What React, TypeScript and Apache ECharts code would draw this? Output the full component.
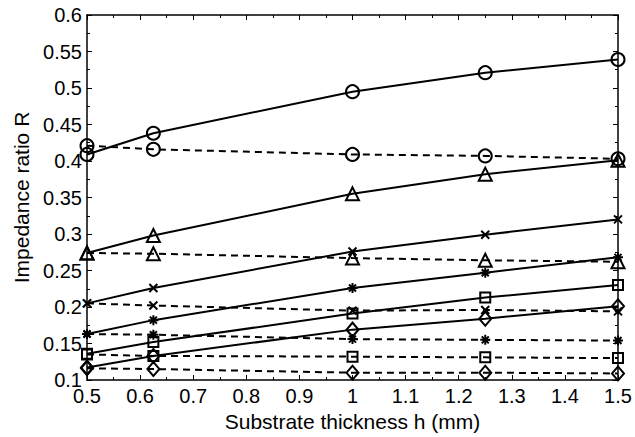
import React, { useEffect, useRef } from "react";
import * as echarts from "echarts";

const thickness = [0.5, 0.625, 1, 1.25, 1.5];
const circleSolid = [0.409, 0.438, 0.495, 0.521, 0.539];
const circleDashed = [0.421, 0.416, 0.409, 0.407, 0.403];
const triSolid = [0.274, 0.298, 0.355, 0.382, 0.401];
const triDashed = [0.274, 0.273, 0.267, 0.264, 0.262];
const crossSolid = [0.205, 0.226, 0.276, 0.299, 0.32];
const crossDashed = [0.205, 0.202, 0.195, 0.196, 0.194];
const starSolid = [0.163, 0.182, 0.226, 0.247, 0.268];
const starDashed = [0.163, 0.162, 0.156, 0.155, 0.154];
const squareSolid = [0.136, 0.152, 0.191, 0.213, 0.23];
const squareDashed = [0.135, 0.133, 0.132, 0.131, 0.13];
const diamondSolid = [0.117, 0.133, 0.169, 0.184, 0.201];
const diamondDashed = [0.116, 0.115, 0.11, 0.11, 0.109];

const CROSS = "path://M0,0L10,10M10,0L0,10";
const STAR = "path://M5,0L5,10M0,5L10,5M1.5,1.5L8.5,8.5M8.5,1.5L1.5,8.5";

const FONT = "'Liberation Sans', Arial, Helvetica, sans-serif";

function mk(name: string, values: number[], symbol: string, size: number | number[], dashed: boolean) {
  return {
    name,
    type: "line",
    data: thickness.map((x, i) => [x, values[i]]),
    symbol,
    symbolSize: size,
    showAllSymbol: true,
    lineStyle: { color: "#000", width: 2, type: dashed ? [7, 5] : "solid" },
    itemStyle: { color: "rgba(0,0,0,0)", borderColor: "#000", borderWidth: 2 },
    emphasis: { disabled: true },
    z: 3,
  };
}

export default function App() {
  const ref = useRef<HTMLDivElement>(null);
  useEffect(() => {
    if (!ref.current) return;
    const chart = echarts.init(ref.current, undefined, { renderer: "svg" });
    const axisCommon = {
      axisLine: { show: true, onZero: false, lineStyle: { color: "#000", width: 1.5 } },
      axisTick: { show: true, inside: true, length: 5, lineStyle: { color: "#000", width: 1 } },
      minorTick: { show: true, splitNumber: 2, length: 3, lineStyle: { color: "#000", width: 1 } },
      splitLine: { show: false },
    };
    chart.setOption({
      animation: false,
      backgroundColor: "#fff",
      textStyle: { fontFamily: FONT },
      grid: { left: 87, right: 17, top: 15, bottom: 57, containLabel: false },
      xAxis: [
        {
          type: "value",
          min: 0.5,
          max: 1.5,
          interval: 0.1,
          position: "bottom",
          ...axisCommon,
          axisLabel: { color: "#000", fontSize: 20, fontFamily: FONT, margin: 6 },
          name: "Substrate thickness h (mm)",
          nameLocation: "middle",
          nameGap: 25,
          nameTextStyle: { color: "#000", fontSize: 21, fontFamily: FONT },
        },
        {
          type: "value",
          min: 0.5,
          max: 1.5,
          interval: 0.1,
          position: "top",
          ...axisCommon,
          axisLabel: { show: false },
        },
      ],
      yAxis: [
        {
          type: "value",
          min: 0.1,
          max: 0.6,
          interval: 0.05,
          position: "left",
          ...axisCommon,
          axisLabel: { color: "#000", fontSize: 20, fontFamily: FONT, margin: 5 },
          name: "Impedance ratio R",
          nameLocation: "middle",
          nameGap: 52,
          nameTextStyle: { color: "#000", fontSize: 21, fontFamily: FONT },
        },
        {
          type: "value",
          min: 0.1,
          max: 0.6,
          interval: 0.05,
          position: "right",
          ...axisCommon,
          axisLabel: { show: false },
        },
      ],
      series: [
        mk("circle solid", circleSolid, "circle", 13, false),
        mk("circle dashed", circleDashed, "circle", 13, true),
        mk("triangle solid", triSolid, "triangle", 13, false),
        mk("triangle dashed", triDashed, "triangle", 13, true),
        mk("cross solid", crossSolid, CROSS, 8, false),
        mk("cross dashed", crossDashed, CROSS, 8, true),
        mk("star solid", starSolid, STAR, 10, false),
        mk("star dashed", starDashed, STAR, 10, true),
        mk("square solid", squareSolid, "rect", 10, false),
        mk("square dashed", squareDashed, "rect", 10, true),
        mk("diamond solid", diamondSolid, "diamond", [12, 14], false),
        mk("diamond dashed", diamondDashed, "diamond", [12, 14], true),
      ],
    });
    return () => chart.dispose();
  }, []);
  return (
    <div
      ref={ref}
      style={{ position: "fixed", left: 0, top: 0, width: 635, height: 437, background: "#fff" }}
    />
  );
}
